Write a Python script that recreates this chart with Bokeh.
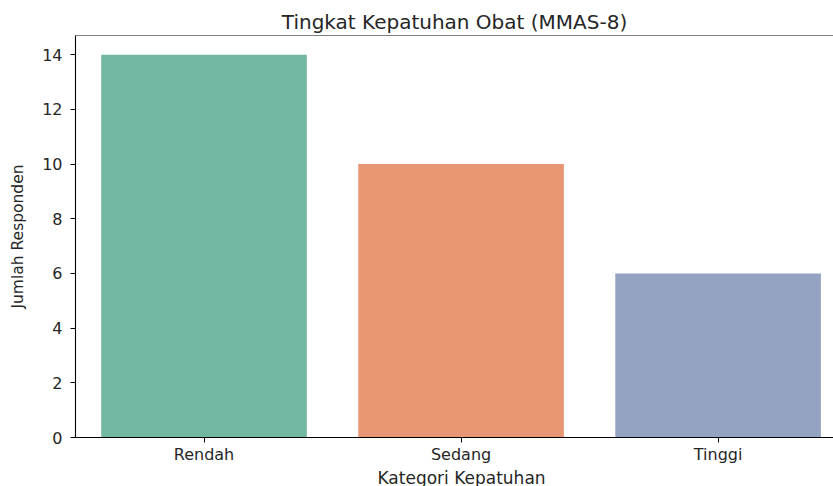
from bokeh.plotting import figure
from bokeh.models import ColumnDataSource, Range1d, FixedTicker, Span, Title
from bokeh.embed import file_html
from bokeh.resources import INLINE

categories = ["Rendah", "Sedang", "Tinggi"]
counts = [14, 10, 6]
colors = ["#72b7a1", "#e99675", "#95a3c3"]
y_ticks = [0, 2, 4, 6, 8, 10, 12, 14]

xs = list(range(len(categories)))
src = ColumnDataSource(dict(x=xs, top=counts, color=colors, cat=categories))

FONT = "DejaVu Sans"
p = figure(width=833, height=486, output_backend="svg", toolbar_location=None,
           x_range=Range1d(-0.5, 2.449), y_range=Range1d(0, 14.7),
           title="Tingkat Kepatuhan Obat (MMAS-8)",
           min_border_left=75, min_border_right=0, min_border_top=35, min_border_bottom=46)
p.vbar(x="x", top="top", width=0.8, bottom=0, fill_color="color", line_color=None, source=src)

p.title.align = "center"
p.title.text_font = FONT
p.title.text_font_size = "20px"
p.title.text_font_style = "normal"
p.title.text_color = "#262626"
p.title.standoff = 4

p.outline_line_color = None
p.add_layout(Span(location=14.7, dimension="width", line_color="black", line_width=1.1))
p.xgrid.visible = False
p.ygrid.visible = False
p.background_fill_color = "white"
p.border_fill_color = "white"

p.xaxis.ticker = FixedTicker(ticks=xs)
p.xaxis.major_label_overrides = {i: c for i, c in zip(xs, categories)}
p.yaxis.ticker = FixedTicker(ticks=y_ticks)
p.yaxis.axis_label = "Jumlah Responden"
for ax in (p.xaxis, p.yaxis):
    ax.axis_line_color = "black"
    ax.axis_line_width = 1.1
    ax.major_tick_line_color = "black"
    ax.major_tick_out = 5
    ax.major_tick_in = 0
    ax.minor_tick_line_color = None
    ax.major_label_text_font = FONT
    ax.major_label_text_font_size = "16px"
    ax.major_label_text_color = "#262626"
    ax.axis_label_text_font = FONT
    ax.axis_label_text_font_style = "normal"
    ax.axis_label_text_color = "#262626"
p.yaxis.axis_label_text_font_size = "15.5px"
p.xaxis.major_label_standoff = 2
p.yaxis.major_label_standoff = 8
p.yaxis.axis_label_standoff = 12

xlabel = Title(text="Kategori Kepatuhan", align="left", offset=302, standoff=-2,
               text_font=FONT, text_font_size="17px", text_font_style="normal",
               text_color="#262626", text_line_height=1.0)
p.add_layout(xlabel, "below")

open("out.html", "w").write(file_html(p, INLINE))
